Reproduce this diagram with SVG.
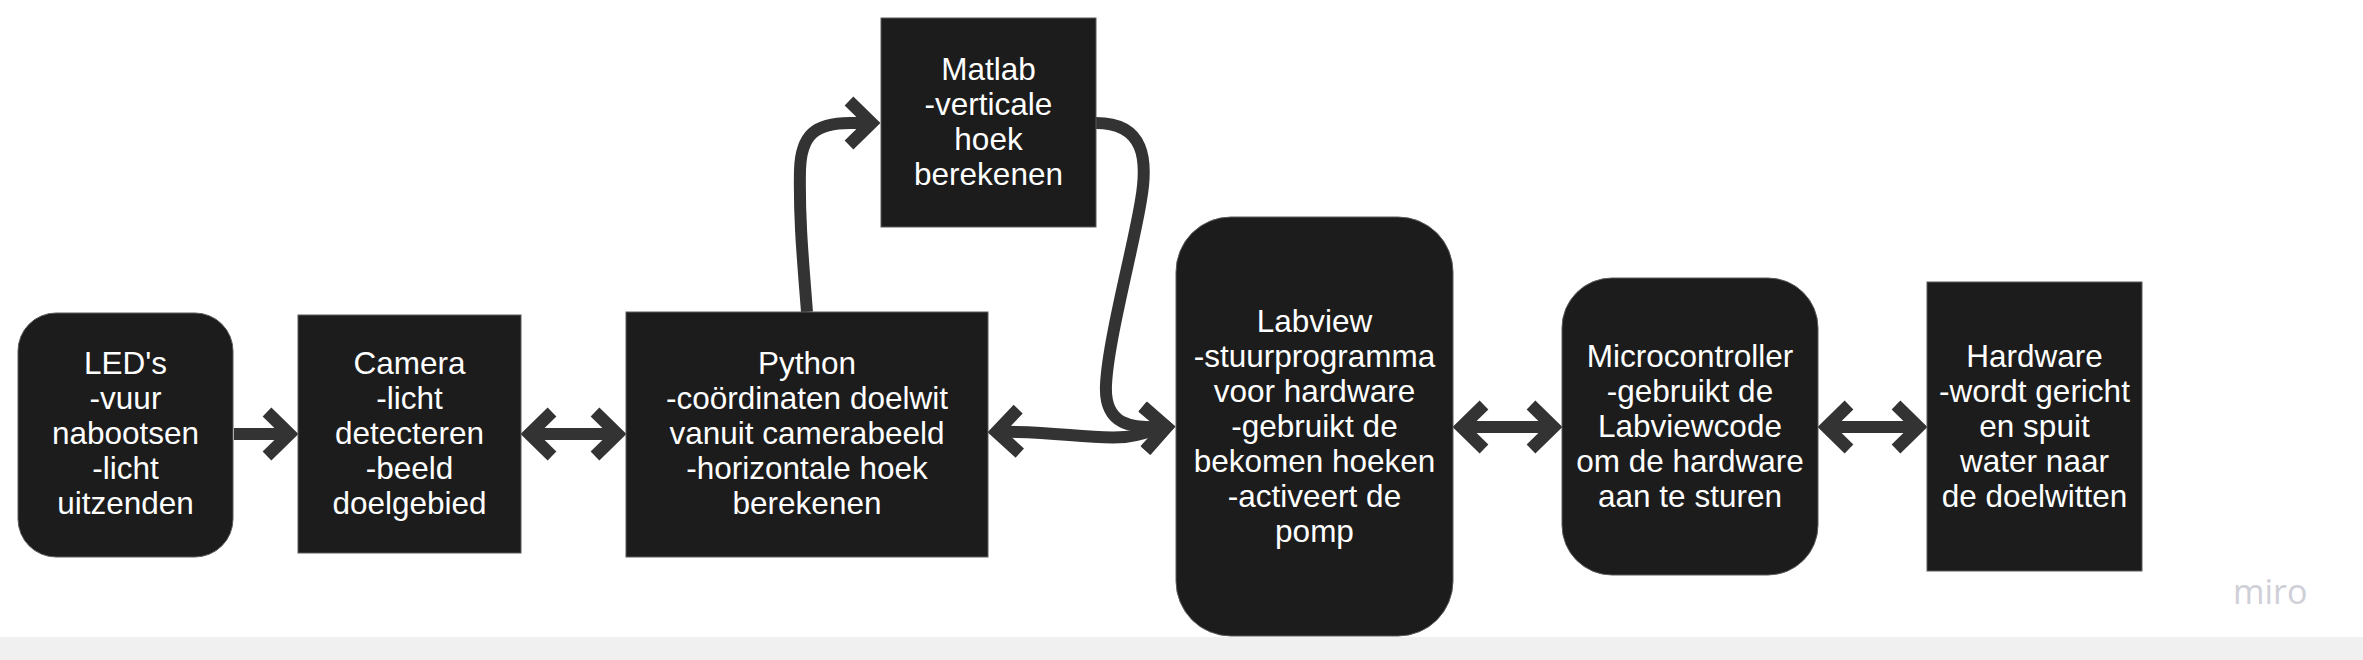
<svg xmlns="http://www.w3.org/2000/svg" width="2363" height="660" viewBox="0 0 2363 660">
<style>
.box{fill:#1c1c1c;stroke:#5a5a5a;stroke-width:1}
.t{font-family:"Liberation Sans",Arial,sans-serif;font-size:31.5px;fill:#ffffff;text-anchor:middle}
.c{fill:none;stroke:#333333;stroke-width:12}
.wm{font-family:"Open Sans","DejaVu Sans",sans-serif;font-size:34px;fill:#cfcfd7}
</style>
<defs>
<marker id="chev" markerUnits="userSpaceOnUse" viewBox="-45 -35 50 70" markerWidth="50" markerHeight="70" refX="-7" refY="0" orient="auto-start-reverse" overflow="visible">
<path d="M-31,-22 L-8.5,0 L-31,22" fill="none" stroke="#333333" stroke-width="12.5" stroke-linejoin="miter" stroke-miterlimit="4"/>
</marker>
</defs>
<rect x="0" y="0" width="2363" height="660" fill="#ffffff"/>
<rect x="0" y="637" width="2363" height="23" fill="#f0f0f0"/>

<g id="connectors">
<path class="c" d="M234,434 L291,434" marker-end="url(#chev)"/>
<path class="c" d="M528,434 L619,434" marker-start="url(#chev)" marker-end="url(#chev)"/>
<path class="c" d="M807,312 C803,260 799,220 800,170 C801,135 815,123 850,123 L873,123" marker-end="url(#chev)"/>
<path class="c" d="M1096,123 C1145,123 1148,160 1141,200 C1134,245 1108,340 1106,385 C1104,425 1130,429 1168,427" marker-end="url(#chev)"/>
<path class="c" d="M995,432 C1050,430 1090,440 1125,437 C1145,435 1155,428 1168,427" marker-start="url(#chev)" marker-end="url(#chev)"/>
<path class="c" d="M1460,427 L1555,427" marker-start="url(#chev)" marker-end="url(#chev)"/>
<path class="c" d="M1825,427 L1920,427" marker-start="url(#chev)" marker-end="url(#chev)"/>
</g>

<g id="leds">
<rect class="box" x="18" y="313" width="215" height="244" rx="38" ry="38"/>
<text class="t" x="125.5" y="374">LED's</text>
<text class="t" x="125.5" y="409">-vuur</text>
<text class="t" x="125.5" y="444">nabootsen</text>
<text class="t" x="125.5" y="479">-licht</text>
<text class="t" x="125.5" y="514">uitzenden</text>
</g>

<g id="camera">
<rect class="box" x="298" y="315" width="223" height="238"/>
<text class="t" x="409.5" y="374">Camera</text>
<text class="t" x="409.5" y="409">-licht</text>
<text class="t" x="409.5" y="444">detecteren</text>
<text class="t" x="409.5" y="479">-beeld</text>
<text class="t" x="409.5" y="514">doelgebied</text>
</g>

<g id="python">
<rect class="box" x="626" y="312" width="362" height="245"/>
<text class="t" x="807" y="374">Python</text>
<text class="t" x="807" y="409">-coördinaten doelwit</text>
<text class="t" x="807" y="444">vanuit camerabeeld</text>
<text class="t" x="807" y="479">-horizontale hoek</text>
<text class="t" x="807" y="514">berekenen</text>
</g>

<g id="matlab">
<rect class="box" x="881" y="18" width="215" height="209"/>
<text class="t" x="988.5" y="80">Matlab</text>
<text class="t" x="988.5" y="115">-verticale</text>
<text class="t" x="988.5" y="150">hoek</text>
<text class="t" x="988.5" y="185">berekenen</text>
</g>

<g id="labview">
<rect class="box" x="1176" y="217" width="277" height="419" rx="55" ry="55"/>
<text class="t" x="1314.5" y="331.5">Labview</text>
<text class="t" x="1314.5" y="366.5">-stuurprogramma</text>
<text class="t" x="1314.5" y="401.5">voor hardware</text>
<text class="t" x="1314.5" y="436.5">-gebruikt de</text>
<text class="t" x="1314.5" y="471.5">bekomen hoeken</text>
<text class="t" x="1314.5" y="506.5">-activeert de</text>
<text class="t" x="1314.5" y="541.5">pomp</text>
</g>

<g id="microcontroller">
<rect class="box" x="1562" y="278" width="256" height="297" rx="50" ry="50"/>
<text class="t" x="1690" y="366.5">Microcontroller</text>
<text class="t" x="1690" y="401.5">-gebruikt de</text>
<text class="t" x="1690" y="436.5">Labviewcode</text>
<text class="t" x="1690" y="471.5">om de hardware</text>
<text class="t" x="1690" y="506.5">aan te sturen</text>
</g>

<g id="hardware">
<rect class="box" x="1927" y="282" width="215" height="289"/>
<text class="t" x="2034.5" y="366.5">Hardware</text>
<text class="t" x="2034.5" y="401.5">-wordt gericht</text>
<text class="t" x="2034.5" y="436.5">en spuit</text>
<text class="t" x="2034.5" y="471.5">water naar</text>
<text class="t" x="2034.5" y="506.5">de doelwitten</text>
</g>

<text class="wm" x="2233" y="604">miro</text>
</svg>
